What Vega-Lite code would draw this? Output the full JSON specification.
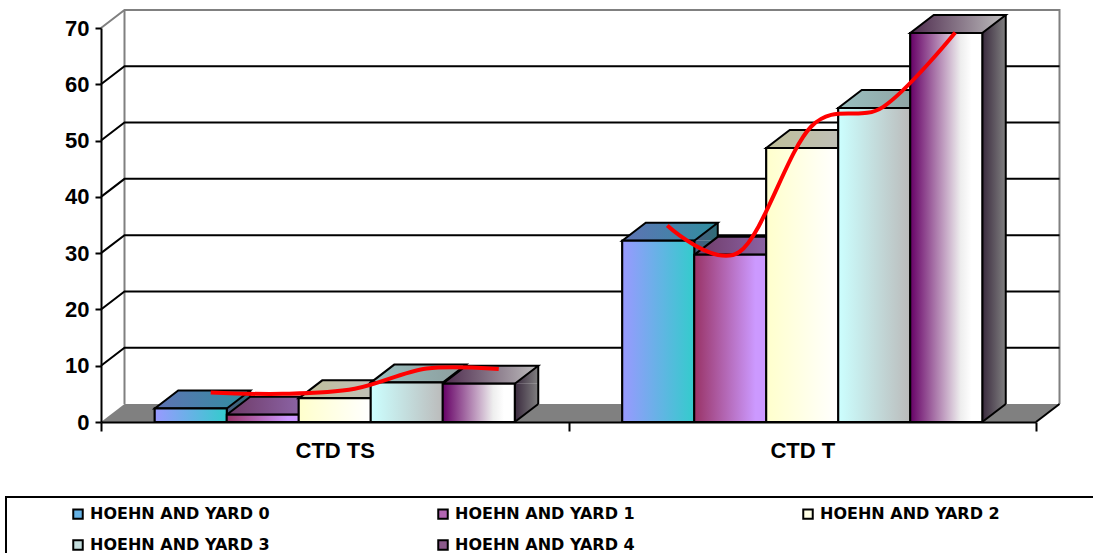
{
  "$schema": "https://vega.github.io/schema/vega-lite/v6.json",
  "width": 935,
  "height": 394,
  "autosize": {"type": "none"},
  "padding": {"left": 101, "top": 28, "right": 57, "bottom": 131},
  "background": "white",
  "config": {"view": {"stroke": null}, "font": "Liberation Sans"},
  "resolve": {"scale": {"xOffset": "independent"}},
  "data": {"values": [
    {"category": "CTD TS", "series": "HOEHN AND YARD 0", "value": 2.4},
    {"category": "CTD TS", "series": "HOEHN AND YARD 1", "value": 1.3},
    {"category": "CTD TS", "series": "HOEHN AND YARD 2", "value": 4.2},
    {"category": "CTD TS", "series": "HOEHN AND YARD 3", "value": 7.0},
    {"category": "CTD TS", "series": "HOEHN AND YARD 4", "value": 6.8},
    {"category": "CTD T", "series": "HOEHN AND YARD 0", "value": 32.2},
    {"category": "CTD T", "series": "HOEHN AND YARD 1", "value": 29.7},
    {"category": "CTD T", "series": "HOEHN AND YARD 2", "value": 48.7},
    {"category": "CTD T", "series": "HOEHN AND YARD 3", "value": 55.8},
    {"category": "CTD T", "series": "HOEHN AND YARD 4", "value": 69.1}
  ]},
  "layer": [
    {
      "data": {"values": [{"surface": "back wall"}]},
      "mark": {"type": "point", "filled": false, "opacity": 1, "size": 4, "stroke": "#808080", "strokeWidth": 2,
        "shape": "M0,0 L23.5,-18 L958.5,-18 L958.5,376 M23.5,-18 L23.5,376"},
      "encoding": {
        "x": {"datum": "CTD TS", "type": "nominal", "bandPosition": 0,
          "sort": null,
          "scale": {"type": "band", "domain": ["CTD TS", "CTD T"], "paddingInner": 0, "paddingOuter": 0},
          "axis": {"title": null, "tickBand": "extent", "labelAngle": 0, "labelFont": "Liberation Sans", "labelFontWeight": "bold", "labelFontSize": 22, "labelColor": "black",
            "labelPadding": 9, "tickSize": 9, "tickColor": "black", "tickWidth": 2, "domainColor": "black", "domainWidth": 2, "zindex": 1}},
        "y": {"datum": 70, "type": "quantitative",
          "scale": {"domain": [0, 70], "nice": false},
          "axis": {"title": null, "values": [0, 10, 20, 30, 40, 50, 60, 70], "grid": false, "labelFont": "Liberation Sans", "labelFontWeight": "bold", "labelFontSize": 22, "labelColor": "black",
            "labelPadding": 6, "tickSize": 6, "tickColor": "black", "tickWidth": 2, "domainColor": "black", "domainWidth": 2, "zindex": 1}}
      }
    },
    {
      "data": {"values": [{"level": 10}, {"level": 20}, {"level": 30}, {"level": 40}, {"level": 50}, {"level": 60}]},
      "mark": {"type": "point", "filled": false, "opacity": 1, "size": 4, "stroke": "black", "strokeWidth": 2,
        "shape": "M0,0 L23.5,-18 L958.5,-18"},
      "encoding": {
        "x": {"datum": "CTD TS", "type": "nominal", "bandPosition": 0},
        "y": {"field": "level", "type": "quantitative"}
      }
    },
    {
      "data": {"values": [{"surface": "floor"}]},
      "mark": {"type": "point", "filled": true, "opacity": 1, "size": 4, "fill": "#808080", "stroke": null,
        "shape": "M0,0 L23.5,-18 L958.5,-18 L935,0 Z"},
      "encoding": {
        "x": {"datum": "CTD TS", "type": "nominal", "bandPosition": 0},
        "y": {"datum": 0, "type": "quantitative"}
      }
    },
    {
      "data": {"values": [{"surface": "floor edge"}]},
      "mark": {"type": "point", "filled": false, "opacity": 1, "size": 4, "stroke": "black", "strokeWidth": 2,
        "shape": "M935,0 L958.5,-18"},
      "encoding": {
        "x": {"datum": "CTD TS", "type": "nominal", "bandPosition": 0},
        "y": {"datum": 0, "type": "quantitative"}
      }
    },
    {
      "mark": {"type": "bar", "width": 23.5, "y2Offset": -18, "stroke": null},
      "encoding": {
        "x": {"field": "category", "type": "nominal"},
        "xOffset": {"field": "series", "type": "nominal",
          "scale": {"type": "band", "paddingInner": 0, "paddingOuter": 0.7465, "range": [47.75, 515.25]}},
        "y": {"field": "value", "type": "quantitative", "stack": null},
        "y2": {"datum": 0},
        "fill": {
          "condition": [
            {"test": "datum.series === 'HOEHN AND YARD 0'", "value": {"gradient": "linear", "x1": 0, "y1": 0, "x2": 1, "y2": 0, "stops": [{"offset": 0, "color": "#4A5A80"}, {"offset": 1, "color": "#2E6E78"}]}},
            {"test": "datum.series === 'HOEHN AND YARD 1'", "value": {"gradient": "linear", "x1": 0, "y1": 0, "x2": 1, "y2": 0, "stops": [{"offset": 0, "color": "#4E2A4A"}, {"offset": 1, "color": "#66507F"}]}},
            {"test": "datum.series === 'HOEHN AND YARD 2'", "value": {"gradient": "linear", "x1": 0, "y1": 0, "x2": 1, "y2": 0, "stops": [{"offset": 0, "color": "#808066"}, {"offset": 1, "color": "#808080"}]}},
            {"test": "datum.series === 'HOEHN AND YARD 3'", "value": {"gradient": "linear", "x1": 0, "y1": 0, "x2": 1, "y2": 0, "stops": [{"offset": 0, "color": "#668080"}, {"offset": 1, "color": "#606060"}]}}
          ],
          "value": {"gradient": "linear", "x1": 0, "y1": 0, "x2": 1, "y2": 0, "stops": [{"offset": 0, "color": "#3A2A3E"}, {"offset": 1, "color": "#808080"}]}
        }
      }
    },
    {
      "mark": {"type": "point", "filled": true, "opacity": 1, "size": 4, "stroke": null, "shape": "M36,0 L59.5,-18 L59.5,0 Z"},
      "encoding": {
        "x": {"field": "category", "type": "nominal"},
        "xOffset": {"field": "series", "type": "nominal", "scale": {"type": "band", "paddingInner": 0, "paddingOuter": 0.7465}},
        "y": {"field": "value", "type": "quantitative"},
        "fill": {
          "condition": [
            {"test": "datum.series === 'HOEHN AND YARD 0'", "value": {"gradient": "linear", "x1": 0, "y1": 0, "x2": 1, "y2": 0, "stops": [{"offset": 0, "color": "#4A5A80"}, {"offset": 1, "color": "#2E6E78"}]}},
            {"test": "datum.series === 'HOEHN AND YARD 1'", "value": {"gradient": "linear", "x1": 0, "y1": 0, "x2": 1, "y2": 0, "stops": [{"offset": 0, "color": "#4E2A4A"}, {"offset": 1, "color": "#66507F"}]}},
            {"test": "datum.series === 'HOEHN AND YARD 2'", "value": {"gradient": "linear", "x1": 0, "y1": 0, "x2": 1, "y2": 0, "stops": [{"offset": 0, "color": "#808066"}, {"offset": 1, "color": "#808080"}]}},
            {"test": "datum.series === 'HOEHN AND YARD 3'", "value": {"gradient": "linear", "x1": 0, "y1": 0, "x2": 1, "y2": 0, "stops": [{"offset": 0, "color": "#668080"}, {"offset": 1, "color": "#606060"}]}}
          ],
          "value": {"gradient": "linear", "x1": 0, "y1": 0, "x2": 1, "y2": 0, "stops": [{"offset": 0, "color": "#3A2A3E"}, {"offset": 1, "color": "#808080"}]}
        }
      }
    },
    {
      "mark": {"type": "point", "filled": true, "opacity": 1, "size": 4, "stroke": null, "shape": "M36,0 L36,-18 L59.5,-18 Z"},
      "encoding": {
        "x": {"field": "category", "type": "nominal"},
        "xOffset": {"field": "series", "type": "nominal", "scale": {"type": "band", "paddingInner": 0, "paddingOuter": 0.7465}},
        "y": {"datum": 0, "type": "quantitative"},
        "fill": {
          "condition": [
            {"test": "datum.series === 'HOEHN AND YARD 0'", "value": {"gradient": "linear", "x1": 0, "y1": 0, "x2": 1, "y2": 0, "stops": [{"offset": 0, "color": "#4A5A80"}, {"offset": 1, "color": "#2E6E78"}]}},
            {"test": "datum.series === 'HOEHN AND YARD 1'", "value": {"gradient": "linear", "x1": 0, "y1": 0, "x2": 1, "y2": 0, "stops": [{"offset": 0, "color": "#4E2A4A"}, {"offset": 1, "color": "#66507F"}]}},
            {"test": "datum.series === 'HOEHN AND YARD 2'", "value": {"gradient": "linear", "x1": 0, "y1": 0, "x2": 1, "y2": 0, "stops": [{"offset": 0, "color": "#808066"}, {"offset": 1, "color": "#808080"}]}},
            {"test": "datum.series === 'HOEHN AND YARD 3'", "value": {"gradient": "linear", "x1": 0, "y1": 0, "x2": 1, "y2": 0, "stops": [{"offset": 0, "color": "#668080"}, {"offset": 1, "color": "#606060"}]}}
          ],
          "value": {"gradient": "linear", "x1": 0, "y1": 0, "x2": 1, "y2": 0, "stops": [{"offset": 0, "color": "#3A2A3E"}, {"offset": 1, "color": "#808080"}]}
        }
      }
    },
    {
      "mark": {"type": "rule", "yOffset": -18, "y2Offset": -18, "stroke": "black", "strokeWidth": 2},
      "encoding": {
        "x": {"field": "category", "type": "nominal"},
        "xOffset": {"field": "series", "type": "nominal",
          "scale": {"type": "band", "paddingInner": 0, "paddingOuter": 0.7465, "range": [59.5, 527]}},
        "y": {"field": "value", "type": "quantitative"},
        "y2": {"datum": 0}
      }
    },
    {
      "mark": {"type": "point", "filled": false, "opacity": 1, "size": 4, "stroke": "black", "strokeWidth": 2, "shape": "M36,0 L59.5,-18"},
      "encoding": {
        "x": {"field": "category", "type": "nominal"},
        "xOffset": {"field": "series", "type": "nominal", "scale": {"type": "band", "paddingInner": 0, "paddingOuter": 0.7465}},
        "y": {"datum": 0, "type": "quantitative"}
      }
    },
    {
      "mark": {"type": "point", "filled": true, "opacity": 1, "size": 4, "stroke": "black", "strokeWidth": 2, "shape": "M-36,0 L36,0 L59.5,-18 L-12.5,-18 Z"},
      "encoding": {
        "x": {"field": "category", "type": "nominal"},
        "xOffset": {"field": "series", "type": "nominal", "scale": {"type": "band", "paddingInner": 0, "paddingOuter": 0.7465}},
        "y": {"field": "value", "type": "quantitative"},
        "fill": {
          "condition": [
            {"test": "datum.series === 'HOEHN AND YARD 0'", "value": {"gradient": "linear", "x1": 0, "y1": 0, "x2": 1, "y2": 0, "stops": [{"offset": 0, "color": "#5F72B4"}, {"offset": 1, "color": "#2F8F9F"}]}},
            {"test": "datum.series === 'HOEHN AND YARD 1'", "value": {"gradient": "linear", "x1": 0, "y1": 0, "x2": 1, "y2": 0, "stops": [{"offset": 0, "color": "#6E3A66"}, {"offset": 1, "color": "#9470B8"}]}},
            {"test": "datum.series === 'HOEHN AND YARD 2'", "value": {"gradient": "linear", "x1": 0, "y1": 0, "x2": 1, "y2": 0, "stops": [{"offset": 0, "color": "#BFBF99"}, {"offset": 1, "color": "#BFBFBF"}]}},
            {"test": "datum.series === 'HOEHN AND YARD 3'", "value": {"gradient": "linear", "x1": 0, "y1": 0, "x2": 1, "y2": 0, "stops": [{"offset": 0, "color": "#99BFBF"}, {"offset": 1, "color": "#8C9C9C"}]}}
          ],
          "value": {"gradient": "linear", "x1": 0, "y1": 0, "x2": 1, "y2": 0, "stops": [{"offset": 0, "color": "#4D2A4D"}, {"offset": 1, "color": "#BFBFBF"}]}
        }
      }
    },
    {
      "mark": {"type": "bar", "stroke": "black", "strokeWidth": 2},
      "encoding": {
        "x": {"field": "category", "type": "nominal"},
        "xOffset": {"field": "series", "type": "nominal", "scale": {"type": "band", "paddingInner": 0, "paddingOuter": 0.7465}},
        "y": {"field": "value", "type": "quantitative", "stack": null},
        "y2": {"datum": 0},
        "fill": {"field": "series", "type": "nominal",
          "scale": {"domain": ["HOEHN AND YARD 0", "HOEHN AND YARD 1", "HOEHN AND YARD 2", "HOEHN AND YARD 3", "HOEHN AND YARD 4"],
            "range": ["#66B3E6", "#B366B3", "#FFFFE6", "#C4DEDE", "#8C5A8C"]},
          "legend": {"title": null, "orient": "none", "direction": "horizontal", "legendX": -31, "legendY": 478, "columns": 3, "padding": 0, "gridAlign": "all",
            "columnPadding": 164, "rowPadding": 13, "symbolType": "square", "symbolSize": 90, "symbolStrokeColor": "black", "symbolStrokeWidth": 2, "labelOffset": 4,
            "labelFont": "DejaVu Sans", "labelFontWeight": "bold", "labelFontSize": 16, "labelColor": "black", "labelLimit": 400}}
      }
    },
    {
      "mark": {"type": "bar", "stroke": "black", "strokeWidth": 2},
      "encoding": {
        "x": {"field": "category", "type": "nominal"},
        "xOffset": {"field": "series", "type": "nominal", "scale": {"type": "band", "paddingInner": 0, "paddingOuter": 0.7465}},
        "y": {"field": "value", "type": "quantitative", "stack": null},
        "y2": {"datum": 0},
        "fill": {
          "condition": [
            {"test": "datum.series === 'HOEHN AND YARD 0'", "value": {"gradient": "linear", "x1": 0, "y1": 0, "x2": 1, "y2": 0, "stops": [{"offset": 0, "color": "#9999FF"}, {"offset": 1, "color": "#33CCCC"}]}},
            {"test": "datum.series === 'HOEHN AND YARD 1'", "value": {"gradient": "linear", "x1": 0, "y1": 0, "x2": 1, "y2": 0, "stops": [{"offset": 0, "color": "#993366"}, {"offset": 0.85, "color": "#CC99FF"}, {"offset": 1, "color": "#CC99FF"}]}},
            {"test": "datum.series === 'HOEHN AND YARD 2'", "value": {"gradient": "linear", "x1": 0, "y1": 0, "x2": 1, "y2": 0, "stops": [{"offset": 0, "color": "#FFFFCC"}, {"offset": 1, "color": "#FFFFFF"}]}},
            {"test": "datum.series === 'HOEHN AND YARD 3'", "value": {"gradient": "linear", "x1": 0, "y1": 0, "x2": 1, "y2": 0, "stops": [{"offset": 0, "color": "#CCFFFF"}, {"offset": 1, "color": "#BBBBBB"}]}}
          ],
          "value": {"gradient": "linear", "x1": 0, "y1": 0, "x2": 1, "y2": 0, "stops": [{"offset": 0, "color": "#660066"}, {"offset": 0.7, "color": "#EEEEEE"}, {"offset": 0.85, "color": "#FFFFFF"}, {"offset": 1, "color": "#FFFFFF"}]}
        }
      }
    },
    {
      "data": {"values": [
        {"category": "CTD TS", "series": "HOEHN AND YARD 0", "curve": 5.24},
        {"category": "CTD TS", "series": "HOEHN AND YARD 1", "curve": 5.0},
        {"category": "CTD TS", "series": "HOEHN AND YARD 2", "curve": 5.9},
        {"category": "CTD TS", "series": "HOEHN AND YARD 3", "curve": 9.5},
        {"category": "CTD TS", "series": "HOEHN AND YARD 4", "curve": 9.4}
      ]},
      "mark": {"type": "line", "interpolate": "cardinal", "stroke": "#FF0000", "strokeWidth": 4},
      "encoding": {
        "x": {"field": "category", "type": "nominal"},
        "xOffset": {"field": "series", "type": "nominal",
          "scale": {"type": "band", "paddingInner": 0, "paddingOuter": 0.7465, "range": [20, 487.5]}},
        "y": {"field": "curve", "type": "quantitative"}
      }
    },
    {
      "data": {"values": [
        {"category": "CTD T", "series": "HOEHN AND YARD 0", "curve": 34.9},
        {"category": "CTD T", "series": "HOEHN AND YARD 1", "curve": 30.2},
        {"category": "CTD T", "series": "HOEHN AND YARD 2", "curve": 52.5},
        {"category": "CTD T", "series": "HOEHN AND YARD 3", "curve": 56.0},
        {"category": "CTD T", "series": "HOEHN AND YARD 4", "curve": 69.2}
      ]},
      "mark": {"type": "line", "interpolate": "cardinal", "stroke": "#FF0000", "strokeWidth": 4},
      "encoding": {
        "x": {"field": "category", "type": "nominal"},
        "xOffset": {"field": "series", "type": "nominal",
          "scale": {"type": "band", "paddingInner": 0, "paddingOuter": 0.7465, "range": [9, 476.5]}},
        "y": {"field": "curve", "type": "quantitative"}
      }
    },
    {
      "data": {"values": [{"surface": "legend frame"}]},
      "mark": {"type": "point", "filled": false, "opacity": 1, "size": 4, "stroke": "black", "strokeWidth": 2,
        "shape": "M-95,75 L1000,75 L1000,140 L-95,140 Z"},
      "encoding": {
        "x": {"datum": "CTD TS", "type": "nominal", "bandPosition": 0},
        "y": {"datum": 0, "type": "quantitative"}
      }
    }
  ]
}
